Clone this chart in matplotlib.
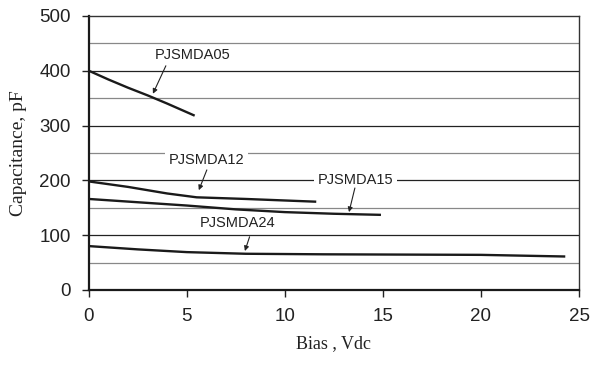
import numpy as np
import matplotlib.pyplot as plt

# Capacitance vs. bias
bias_05 = [0, 1, 2, 3, 4, 5.4]
cap_05 = [400, 384, 369, 355, 340, 318]

bias_12 = [0, 2, 4, 5.5, 8, 11.6]
cap_12 = [198, 188, 176, 169, 166, 161]

bias_15 = [0, 2.5, 5, 7.5, 10, 12.5, 14.9]
cap_15 = [166, 160, 154, 147, 142, 139, 137]

bias_24 = [0, 2.5, 5, 8, 12, 16, 20, 24.3]
cap_24 = [80, 74, 69, 66, 65, 64.5, 64, 61]

series = [
    ("PJSMDA05", bias_05, cap_05, (5.3, 429), (3.93, 409), (3.27, 358), False),
    ("PJSMDA12", bias_12, cap_12, (6.0, 237), (6.02, 219), (5.61, 182), True),
    ("PJSMDA15", bias_15, cap_15, (13.6, 201), (13.57, 186), (13.27, 142), True),
    ("PJSMDA24", bias_24, cap_24, (7.6, 122), (8.2, 97), (7.96, 71), False),
]

fig = plt.figure(figsize=(6.0, 3.79), dpi=100)
ax = fig.add_axes([0.148, 0.235, 0.817, 0.723])

ax.set_xlim(0, 25)
ax.set_ylim(0, 500)

# gridlines: dark every 100, gray at the 50s
for y in range(50, 500, 50):
    if y % 100 == 0:
        ax.axhline(y, color='#222222', lw=0.9, zorder=1)
    else:
        ax.axhline(y, color='#888888', lw=0.9, zorder=1)

for name, x, y, txt, a0, a1, boxed in series:
    ax.plot(x, y, color='#1a1a1a', lw=1.7, zorder=3, solid_capstyle='butt')
    bbox = dict(facecolor='white', edgecolor='none', pad=2.5) if boxed else None
    ax.text(txt[0], txt[1], name, ha='center', va='center', fontsize=10.5,
            family='Liberation Sans', color='#222222', bbox=bbox, zorder=4)
    ax.annotate('', xy=a1, xytext=a0,
                arrowprops=dict(arrowstyle='-|>', color='#222222', lw=0.8,
                                mutation_scale=7, shrinkA=0, shrinkB=0),
                zorder=4)

for side in ['left', 'bottom']:
    ax.spines[side].set_linewidth(1.6)
    ax.spines[side].set_color('#1a1a1a')
for side in ['top', 'right']:
    ax.spines[side].set_linewidth(1.0)
    ax.spines[side].set_color('#333333')

ax.set_xticks([0, 5, 10, 15, 20, 25])
ax.set_yticks([0, 100, 200, 300, 400, 500])
ax.tick_params(axis='both', direction='out', length=5, width=1.0, color='#222222',
               labelsize=13.5, pad=8)
for lab in ax.get_xticklabels() + ax.get_yticklabels():
    lab.set_family('Liberation Sans')
    lab.set_color('#222222')

ax.set_xlabel("Bias , Vdc", family='Liberation Serif', fontsize=13, labelpad=7,
              color='#222222')
ax.set_ylabel("Capacitance, pF", family='Liberation Serif', fontsize=14, labelpad=9,
              color='#222222')

fig.savefig('out.png', dpi=100, facecolor='white')
